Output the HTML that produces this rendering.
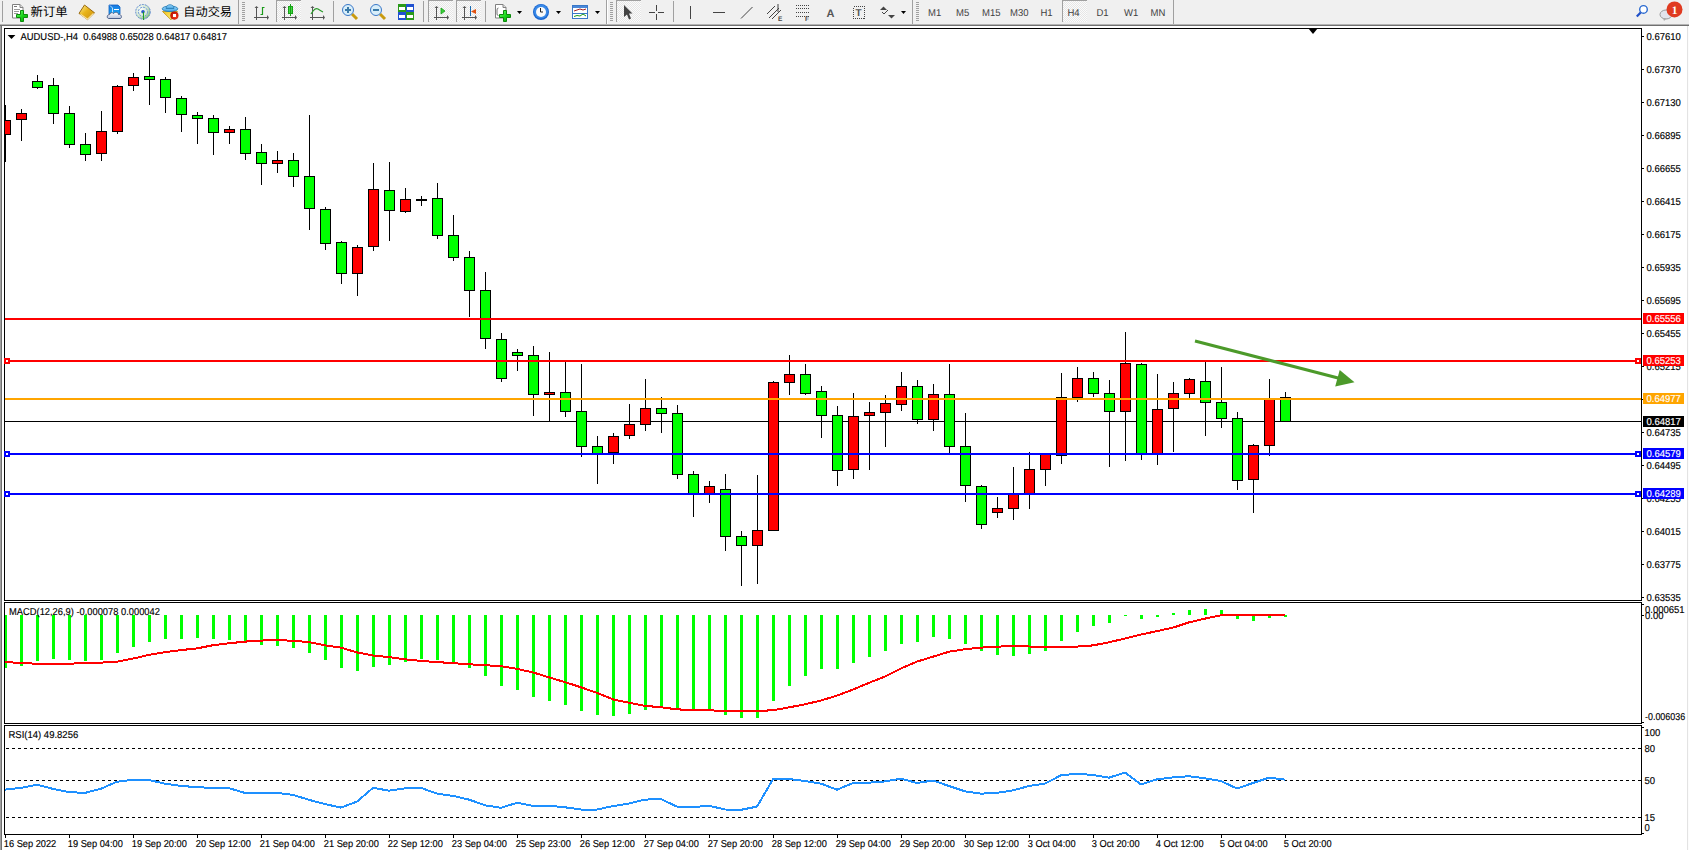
<!DOCTYPE html>
<html><head><meta charset="utf-8"><title>AUDUSD-,H4</title>
<style>
html,body{margin:0;padding:0;background:#f0f0f0;}
body{width:1689px;height:850px;overflow:hidden;}
svg{display:block;font-family:"Liberation Sans", Arial, sans-serif;text-rendering:geometricPrecision;}
svg rect{shape-rendering:crispEdges;}
</style></head>
<body>
<svg width="1689" height="850" viewBox="0 0 1689 850">
<defs><pattern id="chk" width="2" height="2" patternUnits="userSpaceOnUse"><rect width="2" height="2" fill="#fbfbfb"/><rect width="1" height="1" fill="#e6e6e6"/><rect x="1" y="1" width="1" height="1" fill="#e6e6e6"/></pattern></defs>
<rect x="0" y="0" width="1689" height="24" fill="#f0f0f0"/>
<rect x="0" y="24" width="1689" height="1" fill="#b4b4b4"/>
<rect x="0" y="25" width="1689" height="1" fill="#707070"/>
<defs><linearGradient id="gplus" x1="0" y1="0" x2="1" y2="1"><stop offset="0" stop-color="#7dff7d"/><stop offset="0.5" stop-color="#18d818"/><stop offset="1" stop-color="#0a9a0a"/></linearGradient><linearGradient id="ggold" x1="0" y1="0" x2="1" y2="1"><stop offset="0" stop-color="#fff3a0"/><stop offset="0.45" stop-color="#e8b418"/><stop offset="1" stop-color="#c88a10"/></linearGradient><linearGradient id="gblue" x1="0" y1="0" x2="0" y2="1"><stop offset="0" stop-color="#1a78e0"/><stop offset="1" stop-color="#18aaf8"/></linearGradient><linearGradient id="gcloud" x1="0" y1="0" x2="0" y2="1"><stop offset="0" stop-color="#ffffff"/><stop offset="1" stop-color="#b8c4dc"/></linearGradient><radialGradient id="gradar" cx="0.35" cy="0.35" r="0.75"><stop offset="0" stop-color="#ffffff"/><stop offset="0.6" stop-color="#cfe6cf"/><stop offset="1" stop-color="#5aaa5a"/></radialGradient><linearGradient id="ghat" x1="0" y1="0" x2="0" y2="1"><stop offset="0" stop-color="#a8dcff"/><stop offset="1" stop-color="#3aa0e0"/></linearGradient><linearGradient id="gfun" x1="0" y1="0" x2="1" y2="1"><stop offset="0" stop-color="#f0c020"/><stop offset="1" stop-color="#ffff90"/></linearGradient><radialGradient id="gred" cx="0.6" cy="0.6" r="0.6"><stop offset="0" stop-color="#ff4020"/><stop offset="1" stop-color="#b81000"/></radialGradient></defs>
<rect x="2" y="1" width="1" height="21" fill="#a0a0a0"/>
<path d="M12.5 4.5 h7.5 l3 3 v10.5 h-10.5 z" fill="#fff" stroke="#808080" stroke-width="1"/><path d="M20 4.5 v3 h3" fill="#e0e0e0" stroke="#808080" stroke-width="1"/>
<rect x="14" y="6" width="3" height="1" fill="#777"/><rect x="14" y="9" width="6" height="1" fill="#999"/><rect x="14" y="11" width="5" height="1" fill="#999"/><rect x="14" y="13" width="4" height="1" fill="#999"/>
<path d="M20.5 10.5 h3 v4 h4 v3 h-4 v4 h-3 v-4 h-4 v-3 h4 z" fill="url(#gplus)" stroke="#0c8a0c" stroke-width="1"/>
<text x="30.5" y="15.6" font-size="12.4" fill="#000" font-family='"Liberation Sans", "Noto Sans CJK SC", sans-serif'>新订单</text>
<path d="M84.5 5 L94.5 12.8 L87.6 19.6 L79 13.4 Z" fill="url(#ggold)" stroke="#9a6a10" stroke-width="1" stroke-linejoin="round"/><path d="M80.5 14.3 L87.6 19.2 L93.5 13.4" fill="none" stroke="#f6e0a0" stroke-width="1.2"/>
<path d="M109 5 h9 l2 2 v7 h-11 z" fill="url(#gblue)" stroke="#1060c0" stroke-width="0.8"/><path d="M110 5.5 l2.5 2.5 v6" stroke="#e8f4ff" stroke-width="0.8" fill="none"/><rect x="114" y="9" width="5" height="1.4" fill="#ffffff"/><path d="M108.5 18.5 c-2 -0.5 -1.5 -4 1 -4 c0.5 -2 3 -2.5 4 -1 c1.5 -2 5 -1.5 5 1 c2.5 -0.5 4 2.5 2 4 z" fill="url(#gcloud)" stroke="#4a5f8a" stroke-width="1"/>
<circle cx="143" cy="11.8" r="7.3" fill="url(#gradar)" opacity="0.9"/><g fill="none"><circle cx="143" cy="11.8" r="7.3" stroke="#5a86d0" stroke-width="1" stroke-dasharray="2 1"/><circle cx="143" cy="11.8" r="4.6" stroke="#6a96d8" stroke-width="1" stroke-dasharray="2 1"/></g><circle cx="143" cy="11.8" r="1.8" fill="#2a5ac8"/><rect x="142.6" y="11.8" width="1.5" height="7.7" fill="#20a020"/>
<path d="M162.5 11.5 L177.5 11.5 L171 19.8 Z" fill="url(#gfun)" stroke="#c89a18" stroke-width="0.9" stroke-linejoin="round"/><ellipse cx="170" cy="8.8" rx="7.8" ry="2.8" fill="url(#ghat)" stroke="#2a80b8" stroke-width="0.9"/><path d="M166 8.5 c0 -5 8 -5 8 0 z" fill="url(#ghat)" stroke="#2a80b8" stroke-width="0.9"/><circle cx="174.4" cy="15.6" r="4.1" fill="url(#gred)"/><rect x="173.1" y="14.3" width="2.6" height="2.6" fill="#fff"/>
<text x="183.3" y="15.6" font-size="12.2" fill="#000" font-family='"Liberation Sans", "Noto Sans CJK SC", sans-serif'>自动交易</text>
<rect x="238" y="0" width="1" height="24" fill="#a0a0a0"/>
<rect x="242" y="2" width="3" height="1" fill="#a0a0a0"/>
<rect x="242" y="4" width="3" height="1" fill="#a0a0a0"/>
<rect x="242" y="6" width="3" height="1" fill="#a0a0a0"/>
<rect x="242" y="8" width="3" height="1" fill="#a0a0a0"/>
<rect x="242" y="10" width="3" height="1" fill="#a0a0a0"/>
<rect x="242" y="12" width="3" height="1" fill="#a0a0a0"/>
<rect x="242" y="14" width="3" height="1" fill="#a0a0a0"/>
<rect x="242" y="16" width="3" height="1" fill="#a0a0a0"/>
<rect x="242" y="18" width="3" height="1" fill="#a0a0a0"/>
<rect x="242" y="20" width="3" height="1" fill="#a0a0a0"/>
<g fill="#555"><rect x="256" y="7" width="1" height="13"/><rect x="254" y="17" width="14" height="1"/><polygon points="254.5,8 258.5,8 256.5,6"/><polygon points="267,15 267,20 269,17.5"/></g>
<path d="M260.5 14.5 h2 v-7 h2" stroke="#1a9a1a" fill="none" stroke-width="1.2"/>
<rect x="276" y="0" width="25" height="22" fill="url(#chk)"/>
<rect x="276" y="0" width="25" height="1" fill="#a0a0a0"/>
<rect x="276" y="0" width="1" height="22" fill="#a0a0a0"/>
<g fill="#555"><rect x="284" y="7" width="1" height="13"/><rect x="282" y="17" width="14" height="1"/><polygon points="282.5,8 286.5,8 284.5,6"/><polygon points="295,15 295,20 297,17.5"/></g>
<rect x="288.5" y="6.5" width="4" height="7" fill="#3fdc3f" stroke="#18a018"/><rect x="290" y="4" width="1" height="12" fill="#18a018"/>
<g fill="#555"><rect x="312" y="7" width="1" height="13"/><rect x="310" y="17" width="14" height="1"/><polygon points="310.5,8 314.5,8 312.5,6"/><polygon points="323,15 323,20 325,17.5"/></g>
<path d="M311 14 q4 -7 7 -5 t5 3" stroke="#2a9a2a" fill="none" stroke-width="1.2"/>
<rect x="333" y="1" width="1" height="21" fill="#a0a0a0"/>
<line x1="352" y1="14" x2="357" y2="19" stroke="#c89a10" stroke-width="3"/><circle cx="348" cy="10" r="5.5" fill="#d8eefa" stroke="#3a78c8" stroke-width="1"/><rect x="345" y="9.3" width="6" height="1.6" fill="#3a7aa8"/>
<rect x="347.2" y="7" width="1.6" height="6" fill="#3a7aa8"/>
<line x1="380" y1="14" x2="385" y2="19" stroke="#c89a10" stroke-width="3"/><circle cx="376" cy="10" r="5.5" fill="#d8eefa" stroke="#3a78c8" stroke-width="1"/><rect x="373" y="9.3" width="6" height="1.6" fill="#3a7aa8"/>
<g><rect x="398" y="4" width="8" height="8" fill="#2a9a1a"/><rect x="406" y="4" width="8" height="8" fill="#2050d0"/><rect x="398" y="12" width="8" height="8" fill="#2050d0"/><rect x="406" y="12" width="8" height="8" fill="#2a9a1a"/><rect x="399" y="7" width="6" height="3" fill="#fff"/><rect x="407" y="7" width="6" height="3" fill="#fff"/><rect x="399" y="15" width="6" height="3" fill="#fff"/><rect x="407" y="15" width="6" height="3" fill="#fff"/></g>
<rect x="423" y="1" width="1" height="21" fill="#a0a0a0"/>
<rect x="428" y="0" width="25" height="22" fill="url(#chk)"/>
<rect x="428" y="0" width="25" height="1" fill="#a0a0a0"/>
<rect x="428" y="0" width="1" height="22" fill="#a0a0a0"/>
<g fill="#555"><rect x="436" y="7" width="1" height="13"/><rect x="434" y="17" width="14" height="1"/><polygon points="434.5,8 438.5,8 436.5,6"/><polygon points="447,15 447,20 449,17.5"/></g>
<polygon points="441,8 441,14 445,11" fill="#3ad03a" stroke="#18a018" stroke-width="0.8"/>
<rect x="456" y="0" width="25" height="22" fill="url(#chk)"/>
<rect x="456" y="0" width="25" height="1" fill="#a0a0a0"/>
<rect x="456" y="0" width="1" height="22" fill="#a0a0a0"/>
<g fill="#555"><rect x="464" y="7" width="1" height="13"/><rect x="462" y="17" width="14" height="1"/><polygon points="462.5,8 466.5,8 464.5,6"/><polygon points="475,15 475,20 477,17.5"/></g>
<rect x="470" y="6" width="1" height="10" fill="#1a6ab0"/><polygon points="471,11.5 476,9 476,14" fill="#e05010"/>
<rect x="485" y="1" width="1" height="21" fill="#a0a0a0"/>
<path d="M495.5 4.5 h7.5 l3 3 v10.5 h-10.5 z" fill="#fff" stroke="#808080" stroke-width="1"/><path d="M503 4.5 v3 h3" fill="#e0e0e0" stroke="#808080" stroke-width="1"/>
<path d="M498.5 8 q-1.5 0 -1.5 2 v4 q0 1.5 1.5 1.5" fill="none" stroke="#555" stroke-width="0.8"/>
<path d="M503.5 10.5 h3 v4 h4 v3 h-4 v4 h-3 v-4 h-4 v-3 h4 z" fill="url(#gplus)" stroke="#0c8a0c" stroke-width="1"/>
<polygon points="517,11 522,11 519.5,14" fill="#000"/>
<circle cx="541" cy="12" r="8" fill="#1a66d0"/><circle cx="541" cy="11.6" r="7" fill="#3a8ae8"/><circle cx="541" cy="12" r="5" fill="#fafafa"/><path d="M540.5 8 v4 h2.5" stroke="#222" fill="none" stroke-width="1"/>
<polygon points="556,11 561,11 558.5,14" fill="#000"/>
<g><rect x="572.5" y="5.5" width="15" height="13" fill="#fff" stroke="#3a78c8"/><rect x="573" y="6" width="14" height="2" fill="#4a88d8"/><rect x="573" y="13" width="14" height="1" fill="#3a78c8"/><path d="M574 11 l3 -1 l3 -1 l3 1 l3 -1" stroke="#a02020" fill="none"/><path d="M574 16.5 l3 -1 l3 0.5 l3 -2 l3 2" stroke="#1a9a1a" fill="none"/></g>
<polygon points="595,11 600,11 597.5,14" fill="#000"/>
<rect x="606" y="0" width="1" height="24" fill="#a0a0a0"/>
<rect x="607" y="0" width="1" height="24" fill="#ffffff"/>
<rect x="610" y="2" width="3" height="1" fill="#a0a0a0"/>
<rect x="610" y="4" width="3" height="1" fill="#a0a0a0"/>
<rect x="610" y="6" width="3" height="1" fill="#a0a0a0"/>
<rect x="610" y="8" width="3" height="1" fill="#a0a0a0"/>
<rect x="610" y="10" width="3" height="1" fill="#a0a0a0"/>
<rect x="610" y="12" width="3" height="1" fill="#a0a0a0"/>
<rect x="610" y="14" width="3" height="1" fill="#a0a0a0"/>
<rect x="610" y="16" width="3" height="1" fill="#a0a0a0"/>
<rect x="610" y="18" width="3" height="1" fill="#a0a0a0"/>
<rect x="610" y="20" width="3" height="1" fill="#a0a0a0"/>
<rect x="616" y="0" width="25" height="22" fill="url(#chk)"/>
<rect x="616" y="0" width="25" height="1" fill="#a0a0a0"/>
<rect x="616" y="0" width="1" height="22" fill="#a0a0a0"/>
<polygon points="624,5 624,17 627,14.5 629,19.5 631,18.5 629,13.5 632.5,13.5" fill="#444"/>
<g fill="#444"><rect x="656" y="5" width="1" height="6"/><rect x="656" y="14" width="1" height="6"/><rect x="649" y="12" width="6" height="1"/><rect x="658" y="12" width="6" height="1"/></g>
<rect x="673" y="1" width="1" height="21" fill="#a0a0a0"/>
<rect x="690" y="6" width="1" height="13" fill="#444"/>
<rect x="713" y="12" width="12" height="1" fill="#444"/>
<line x1="741" y1="18.5" x2="752.5" y2="7" stroke="#444" stroke-width="1"/>
<g stroke="#444" stroke-width="1"><line x1="767" y1="14" x2="775" y2="6"/><line x1="769" y1="18" x2="779" y2="8"/><line x1="772" y1="19" x2="781" y2="10"/><line x1="778" y1="4" x2="778" y2="12"/></g><text x="778" y="21" font-size="6.5" font-weight="bold" fill="#444">E</text>
<g fill="#444"><rect x="796" y="5" width="1" height="1"/><rect x="798" y="5" width="1" height="1"/><rect x="800" y="5" width="1" height="1"/><rect x="802" y="5" width="1" height="1"/><rect x="804" y="5" width="1" height="1"/><rect x="806" y="5" width="1" height="1"/><rect x="808" y="5" width="1" height="1"/><rect x="796" y="8" width="1" height="1"/><rect x="798" y="8" width="1" height="1"/><rect x="800" y="8" width="1" height="1"/><rect x="802" y="8" width="1" height="1"/><rect x="804" y="8" width="1" height="1"/><rect x="806" y="8" width="1" height="1"/><rect x="808" y="8" width="1" height="1"/><rect x="796" y="12" width="1" height="1"/><rect x="798" y="12" width="1" height="1"/><rect x="800" y="12" width="1" height="1"/><rect x="802" y="12" width="1" height="1"/><rect x="804" y="12" width="1" height="1"/><rect x="806" y="12" width="1" height="1"/><rect x="808" y="12" width="1" height="1"/><rect x="796" y="16" width="1" height="1"/><rect x="798" y="16" width="1" height="1"/><rect x="800" y="16" width="1" height="1"/><rect x="802" y="16" width="1" height="1"/><rect x="804" y="16" width="1" height="1"/><rect x="806" y="16" width="1" height="1"/><rect x="808" y="16" width="1" height="1"/></g><text x="805" y="21" font-size="6.5" font-weight="bold" fill="#444">F</text>
<text x="826.5" y="17" font-size="11" font-weight="bold" fill="#555">A</text>
<rect x="853.5" y="6.5" width="11" height="12" fill="none" stroke="#444" stroke-dasharray="1 1"/><text x="855.6" y="16" font-size="10" font-weight="bold" fill="#555">T</text>
<g fill="#444"><polygon points="880,10 883.5,6.5 887,10"/><polygon points="888,15 891.5,18.5 895,15"/><path d="M882 12 l2 2 l4 -4" stroke="#444" fill="none"/></g>
<polygon points="901,11 906,11 903.5,14" fill="#000"/>
<rect x="912" y="0" width="1" height="24" fill="#a0a0a0"/>
<rect x="916" y="2" width="3" height="1" fill="#a0a0a0"/>
<rect x="916" y="4" width="3" height="1" fill="#a0a0a0"/>
<rect x="916" y="6" width="3" height="1" fill="#a0a0a0"/>
<rect x="916" y="8" width="3" height="1" fill="#a0a0a0"/>
<rect x="916" y="10" width="3" height="1" fill="#a0a0a0"/>
<rect x="916" y="12" width="3" height="1" fill="#a0a0a0"/>
<rect x="916" y="14" width="3" height="1" fill="#a0a0a0"/>
<rect x="916" y="16" width="3" height="1" fill="#a0a0a0"/>
<rect x="916" y="18" width="3" height="1" fill="#a0a0a0"/>
<rect x="916" y="20" width="3" height="1" fill="#a0a0a0"/>
<rect x="1062" y="0" width="25" height="22" fill="url(#chk)"/>
<rect x="1062" y="0" width="25" height="1" fill="#a0a0a0"/>
<rect x="1062" y="0" width="1" height="22" fill="#a0a0a0"/>
<text transform="translate(928,16) scale(0.95,1)" font-size="10" fill="#404040">M1</text>
<text transform="translate(956,16) scale(0.95,1)" font-size="10" fill="#404040">M5</text>
<text transform="translate(982,16) scale(0.95,1)" font-size="10" fill="#404040">M15</text>
<text transform="translate(1010,16) scale(0.95,1)" font-size="10" fill="#404040">M30</text>
<text transform="translate(1040.5,16) scale(0.95,1)" font-size="10" fill="#404040">H1</text>
<text transform="translate(1067.5,16) scale(0.95,1)" font-size="10" fill="#404040">H4</text>
<text transform="translate(1096.5,16) scale(0.95,1)" font-size="10" fill="#404040">D1</text>
<text transform="translate(1124,16) scale(0.95,1)" font-size="10" fill="#404040">W1</text>
<text transform="translate(1150.5,16) scale(0.95,1)" font-size="10" fill="#404040">MN</text>
<rect x="1173" y="0" width="1" height="24" fill="#a0a0a0"/>
<circle cx="1643.5" cy="9.4" r="3.8" fill="#fff" stroke="#2a6ad0" stroke-width="1.4"/><line x1="1640.7" y1="12.4" x2="1636.8" y2="16.6" stroke="#2050c8" stroke-width="2.2"/>
<ellipse cx="1666" cy="14.5" rx="6" ry="4.5" fill="#e2e4ec" stroke="#9a9a9a"/><polygon points="1663,18 1664,21 1666.5,18.5" fill="#aaa"/><circle cx="1674.5" cy="9.4" r="8" fill="#e03a20"/><text x="1674.5" y="14" font-size="11.5" font-weight="bold" fill="#fff" text-anchor="middle" font-family='"Liberation Serif", serif'>1</text>
<rect x="0" y="26" width="1689" height="824" fill="#ffffff"/>
<rect x="0" y="26" width="1" height="824" fill="#a0a0a0"/>
<rect x="1" y="26" width="1" height="824" fill="#707070"/>
<rect x="1687" y="26" width="1" height="824" fill="#e3e3e3"/>
<rect x="1688" y="26" width="1" height="824" fill="#fcfcfc"/>
<rect x="4" y="28" width="1638" height="1" fill="#000"/>
<rect x="4" y="600" width="1638" height="1" fill="#000"/>
<rect x="4" y="28" width="1" height="573" fill="#000"/>
<rect x="1641" y="28" width="1" height="573" fill="#000"/>
<rect x="4" y="602" width="1638" height="1" fill="#000"/>
<rect x="4" y="723" width="1638" height="1" fill="#000"/>
<rect x="4" y="602" width="1" height="122" fill="#000"/>
<rect x="1641" y="602" width="1" height="122" fill="#000"/>
<rect x="4" y="725" width="1638" height="1" fill="#000"/>
<rect x="4" y="834" width="1638" height="1" fill="#000"/>
<rect x="4" y="725" width="1" height="110" fill="#000"/>
<rect x="1641" y="725" width="1" height="110" fill="#000"/>
<defs><clipPath id="cm"><rect x="5" y="29" width="1636" height="571"/></clipPath><clipPath id="cmacd"><rect x="5" y="603" width="1636" height="120"/></clipPath><clipPath id="crsi"><rect x="5" y="726" width="1636" height="108"/></clipPath></defs>
<rect x="5" y="421" width="1636" height="1" fill="#000"/>
<g clip-path="url(#cm)">
<rect x="5" y="105" width="1" height="57" fill="#000"/>
<rect x="0" y="120" width="11" height="15" fill="#000"/>
<rect x="1" y="121" width="9" height="13" fill="#ff0000"/>
<rect x="21" y="109" width="1" height="32" fill="#000"/>
<rect x="16" y="113" width="11" height="7" fill="#000"/>
<rect x="17" y="114" width="9" height="5" fill="#ff0000"/>
<rect x="37" y="75" width="1" height="14" fill="#000"/>
<rect x="32" y="81" width="11" height="7" fill="#000"/>
<rect x="33" y="82" width="9" height="5" fill="#00ff00"/>
<rect x="53" y="78" width="1" height="46" fill="#000"/>
<rect x="48" y="85" width="11" height="29" fill="#000"/>
<rect x="49" y="86" width="9" height="27" fill="#00ff00"/>
<rect x="69" y="106" width="1" height="42" fill="#000"/>
<rect x="64" y="113" width="11" height="32" fill="#000"/>
<rect x="65" y="114" width="9" height="30" fill="#00ff00"/>
<rect x="85" y="133" width="1" height="28" fill="#000"/>
<rect x="80" y="144" width="11" height="11" fill="#000"/>
<rect x="81" y="145" width="9" height="9" fill="#00ff00"/>
<rect x="101" y="111" width="1" height="50" fill="#000"/>
<rect x="96" y="131" width="11" height="23" fill="#000"/>
<rect x="97" y="132" width="9" height="21" fill="#ff0000"/>
<rect x="117" y="85" width="1" height="49" fill="#000"/>
<rect x="112" y="86" width="11" height="46" fill="#000"/>
<rect x="113" y="87" width="9" height="44" fill="#ff0000"/>
<rect x="133" y="73" width="1" height="18" fill="#000"/>
<rect x="128" y="77" width="11" height="9" fill="#000"/>
<rect x="129" y="78" width="9" height="7" fill="#ff0000"/>
<rect x="149" y="57" width="1" height="48" fill="#000"/>
<rect x="144" y="76" width="11" height="4" fill="#000"/>
<rect x="145" y="77" width="9" height="2" fill="#00ff00"/>
<rect x="165" y="77" width="1" height="36" fill="#000"/>
<rect x="160" y="79" width="11" height="19" fill="#000"/>
<rect x="161" y="80" width="9" height="17" fill="#00ff00"/>
<rect x="181" y="96" width="1" height="36" fill="#000"/>
<rect x="176" y="98" width="11" height="17" fill="#000"/>
<rect x="177" y="99" width="9" height="15" fill="#00ff00"/>
<rect x="197" y="112" width="1" height="32" fill="#000"/>
<rect x="192" y="115" width="11" height="4" fill="#000"/>
<rect x="193" y="116" width="9" height="2" fill="#00ff00"/>
<rect x="213" y="115" width="1" height="40" fill="#000"/>
<rect x="208" y="118" width="11" height="15" fill="#000"/>
<rect x="209" y="119" width="9" height="13" fill="#00ff00"/>
<rect x="229" y="126" width="1" height="18" fill="#000"/>
<rect x="224" y="129" width="11" height="4" fill="#000"/>
<rect x="225" y="130" width="9" height="2" fill="#ff0000"/>
<rect x="245" y="117" width="1" height="43" fill="#000"/>
<rect x="240" y="129" width="11" height="25" fill="#000"/>
<rect x="241" y="130" width="9" height="23" fill="#00ff00"/>
<rect x="261" y="144" width="1" height="41" fill="#000"/>
<rect x="256" y="152" width="11" height="12" fill="#000"/>
<rect x="257" y="153" width="9" height="10" fill="#00ff00"/>
<rect x="277" y="151" width="1" height="22" fill="#000"/>
<rect x="272" y="160" width="11" height="4" fill="#000"/>
<rect x="273" y="161" width="9" height="2" fill="#ff0000"/>
<rect x="293" y="153" width="1" height="34" fill="#000"/>
<rect x="288" y="160" width="11" height="17" fill="#000"/>
<rect x="289" y="161" width="9" height="15" fill="#00ff00"/>
<rect x="309" y="115" width="1" height="115" fill="#000"/>
<rect x="304" y="176" width="11" height="33" fill="#000"/>
<rect x="305" y="177" width="9" height="31" fill="#00ff00"/>
<rect x="325" y="207" width="1" height="43" fill="#000"/>
<rect x="320" y="209" width="11" height="35" fill="#000"/>
<rect x="321" y="210" width="9" height="33" fill="#00ff00"/>
<rect x="341" y="241" width="1" height="43" fill="#000"/>
<rect x="336" y="242" width="11" height="32" fill="#000"/>
<rect x="337" y="243" width="9" height="30" fill="#00ff00"/>
<rect x="357" y="245" width="1" height="51" fill="#000"/>
<rect x="352" y="247" width="11" height="27" fill="#000"/>
<rect x="353" y="248" width="9" height="25" fill="#ff0000"/>
<rect x="373" y="163" width="1" height="88" fill="#000"/>
<rect x="368" y="189" width="11" height="58" fill="#000"/>
<rect x="369" y="190" width="9" height="56" fill="#ff0000"/>
<rect x="389" y="162" width="1" height="79" fill="#000"/>
<rect x="384" y="190" width="11" height="21" fill="#000"/>
<rect x="385" y="191" width="9" height="19" fill="#00ff00"/>
<rect x="405" y="188" width="1" height="25" fill="#000"/>
<rect x="400" y="199" width="11" height="13" fill="#000"/>
<rect x="401" y="200" width="9" height="11" fill="#ff0000"/>
<rect x="421" y="196" width="1" height="10" fill="#000"/>
<rect x="416" y="199" width="11" height="2" fill="#000"/>
<rect x="437" y="183" width="1" height="56" fill="#000"/>
<rect x="432" y="198" width="11" height="38" fill="#000"/>
<rect x="433" y="199" width="9" height="36" fill="#00ff00"/>
<rect x="453" y="215" width="1" height="46" fill="#000"/>
<rect x="448" y="235" width="11" height="23" fill="#000"/>
<rect x="449" y="236" width="9" height="21" fill="#00ff00"/>
<rect x="469" y="251" width="1" height="66" fill="#000"/>
<rect x="464" y="257" width="11" height="34" fill="#000"/>
<rect x="465" y="258" width="9" height="32" fill="#00ff00"/>
<rect x="485" y="272" width="1" height="77" fill="#000"/>
<rect x="480" y="290" width="11" height="49" fill="#000"/>
<rect x="481" y="291" width="9" height="47" fill="#00ff00"/>
<rect x="501" y="333" width="1" height="49" fill="#000"/>
<rect x="496" y="339" width="11" height="40" fill="#000"/>
<rect x="497" y="340" width="9" height="38" fill="#00ff00"/>
<rect x="517" y="349" width="1" height="22" fill="#000"/>
<rect x="512" y="352" width="11" height="4" fill="#000"/>
<rect x="513" y="353" width="9" height="2" fill="#00ff00"/>
<rect x="533" y="346" width="1" height="70" fill="#000"/>
<rect x="528" y="355" width="11" height="40" fill="#000"/>
<rect x="529" y="356" width="9" height="38" fill="#00ff00"/>
<rect x="549" y="352" width="1" height="70" fill="#000"/>
<rect x="544" y="392" width="11" height="3" fill="#000"/>
<rect x="545" y="393" width="9" height="1" fill="#ff0000"/>
<rect x="565" y="362" width="1" height="55" fill="#000"/>
<rect x="560" y="392" width="11" height="20" fill="#000"/>
<rect x="561" y="393" width="9" height="18" fill="#00ff00"/>
<rect x="581" y="364" width="1" height="93" fill="#000"/>
<rect x="576" y="411" width="11" height="36" fill="#000"/>
<rect x="577" y="412" width="9" height="34" fill="#00ff00"/>
<rect x="597" y="436" width="1" height="48" fill="#000"/>
<rect x="592" y="446" width="11" height="8" fill="#000"/>
<rect x="593" y="447" width="9" height="6" fill="#00ff00"/>
<rect x="613" y="433" width="1" height="31" fill="#000"/>
<rect x="608" y="436" width="11" height="17" fill="#000"/>
<rect x="609" y="437" width="9" height="15" fill="#ff0000"/>
<rect x="629" y="404" width="1" height="35" fill="#000"/>
<rect x="624" y="424" width="11" height="12" fill="#000"/>
<rect x="625" y="425" width="9" height="10" fill="#ff0000"/>
<rect x="645" y="379" width="1" height="52" fill="#000"/>
<rect x="640" y="408" width="11" height="17" fill="#000"/>
<rect x="641" y="409" width="9" height="15" fill="#ff0000"/>
<rect x="661" y="397" width="1" height="36" fill="#000"/>
<rect x="656" y="408" width="11" height="6" fill="#000"/>
<rect x="657" y="409" width="9" height="4" fill="#00ff00"/>
<rect x="677" y="405" width="1" height="74" fill="#000"/>
<rect x="672" y="413" width="11" height="62" fill="#000"/>
<rect x="673" y="414" width="9" height="60" fill="#00ff00"/>
<rect x="693" y="471" width="1" height="46" fill="#000"/>
<rect x="688" y="474" width="11" height="20" fill="#000"/>
<rect x="689" y="475" width="9" height="18" fill="#00ff00"/>
<rect x="709" y="481" width="1" height="22" fill="#000"/>
<rect x="704" y="486" width="11" height="8" fill="#000"/>
<rect x="705" y="487" width="9" height="6" fill="#ff0000"/>
<rect x="725" y="474" width="1" height="77" fill="#000"/>
<rect x="720" y="489" width="11" height="48" fill="#000"/>
<rect x="721" y="490" width="9" height="46" fill="#00ff00"/>
<rect x="741" y="531" width="1" height="55" fill="#000"/>
<rect x="736" y="536" width="11" height="10" fill="#000"/>
<rect x="737" y="537" width="9" height="8" fill="#00ff00"/>
<rect x="757" y="475" width="1" height="109" fill="#000"/>
<rect x="752" y="530" width="11" height="16" fill="#000"/>
<rect x="753" y="531" width="9" height="14" fill="#ff0000"/>
<rect x="773" y="381" width="1" height="150" fill="#000"/>
<rect x="768" y="382" width="11" height="149" fill="#000"/>
<rect x="769" y="383" width="9" height="147" fill="#ff0000"/>
<rect x="789" y="355" width="1" height="40" fill="#000"/>
<rect x="784" y="374" width="11" height="9" fill="#000"/>
<rect x="785" y="375" width="9" height="7" fill="#ff0000"/>
<rect x="805" y="364" width="1" height="31" fill="#000"/>
<rect x="800" y="374" width="11" height="20" fill="#000"/>
<rect x="801" y="375" width="9" height="18" fill="#00ff00"/>
<rect x="821" y="386" width="1" height="52" fill="#000"/>
<rect x="816" y="391" width="11" height="25" fill="#000"/>
<rect x="817" y="392" width="9" height="23" fill="#00ff00"/>
<rect x="837" y="406" width="1" height="80" fill="#000"/>
<rect x="832" y="415" width="11" height="56" fill="#000"/>
<rect x="833" y="416" width="9" height="54" fill="#00ff00"/>
<rect x="853" y="393" width="1" height="86" fill="#000"/>
<rect x="848" y="416" width="11" height="54" fill="#000"/>
<rect x="849" y="417" width="9" height="52" fill="#ff0000"/>
<rect x="869" y="402" width="1" height="68" fill="#000"/>
<rect x="864" y="412" width="11" height="4" fill="#000"/>
<rect x="865" y="413" width="9" height="2" fill="#ff0000"/>
<rect x="885" y="395" width="1" height="52" fill="#000"/>
<rect x="880" y="403" width="11" height="10" fill="#000"/>
<rect x="881" y="404" width="9" height="8" fill="#ff0000"/>
<rect x="901" y="372" width="1" height="39" fill="#000"/>
<rect x="896" y="386" width="11" height="19" fill="#000"/>
<rect x="897" y="387" width="9" height="17" fill="#ff0000"/>
<rect x="917" y="380" width="1" height="44" fill="#000"/>
<rect x="912" y="386" width="11" height="34" fill="#000"/>
<rect x="913" y="387" width="9" height="32" fill="#00ff00"/>
<rect x="933" y="384" width="1" height="47" fill="#000"/>
<rect x="928" y="394" width="11" height="26" fill="#000"/>
<rect x="929" y="395" width="9" height="24" fill="#ff0000"/>
<rect x="949" y="364" width="1" height="89" fill="#000"/>
<rect x="944" y="394" width="11" height="53" fill="#000"/>
<rect x="945" y="395" width="9" height="51" fill="#00ff00"/>
<rect x="965" y="413" width="1" height="89" fill="#000"/>
<rect x="960" y="446" width="11" height="40" fill="#000"/>
<rect x="961" y="447" width="9" height="38" fill="#00ff00"/>
<rect x="981" y="485" width="1" height="44" fill="#000"/>
<rect x="976" y="486" width="11" height="39" fill="#000"/>
<rect x="977" y="487" width="9" height="37" fill="#00ff00"/>
<rect x="997" y="497" width="1" height="21" fill="#000"/>
<rect x="992" y="508" width="11" height="5" fill="#000"/>
<rect x="993" y="509" width="9" height="3" fill="#ff0000"/>
<rect x="1013" y="467" width="1" height="53" fill="#000"/>
<rect x="1008" y="494" width="11" height="15" fill="#000"/>
<rect x="1009" y="495" width="9" height="13" fill="#ff0000"/>
<rect x="1029" y="452" width="1" height="57" fill="#000"/>
<rect x="1024" y="469" width="11" height="25" fill="#000"/>
<rect x="1025" y="470" width="9" height="23" fill="#ff0000"/>
<rect x="1045" y="454" width="1" height="32" fill="#000"/>
<rect x="1040" y="454" width="11" height="16" fill="#000"/>
<rect x="1041" y="455" width="9" height="14" fill="#ff0000"/>
<rect x="1061" y="373" width="1" height="91" fill="#000"/>
<rect x="1056" y="397" width="11" height="59" fill="#000"/>
<rect x="1057" y="398" width="9" height="57" fill="#ff0000"/>
<rect x="1077" y="367" width="1" height="35" fill="#000"/>
<rect x="1072" y="378" width="11" height="20" fill="#000"/>
<rect x="1073" y="379" width="9" height="18" fill="#ff0000"/>
<rect x="1093" y="372" width="1" height="25" fill="#000"/>
<rect x="1088" y="378" width="11" height="16" fill="#000"/>
<rect x="1089" y="379" width="9" height="14" fill="#00ff00"/>
<rect x="1109" y="380" width="1" height="87" fill="#000"/>
<rect x="1104" y="393" width="11" height="19" fill="#000"/>
<rect x="1105" y="394" width="9" height="17" fill="#00ff00"/>
<rect x="1125" y="332" width="1" height="129" fill="#000"/>
<rect x="1120" y="363" width="11" height="49" fill="#000"/>
<rect x="1121" y="364" width="9" height="47" fill="#ff0000"/>
<rect x="1141" y="363" width="1" height="97" fill="#000"/>
<rect x="1136" y="364" width="11" height="90" fill="#000"/>
<rect x="1137" y="365" width="9" height="88" fill="#00ff00"/>
<rect x="1157" y="374" width="1" height="91" fill="#000"/>
<rect x="1152" y="409" width="11" height="45" fill="#000"/>
<rect x="1153" y="410" width="9" height="43" fill="#ff0000"/>
<rect x="1173" y="382" width="1" height="70" fill="#000"/>
<rect x="1168" y="393" width="11" height="16" fill="#000"/>
<rect x="1169" y="394" width="9" height="14" fill="#ff0000"/>
<rect x="1189" y="378" width="1" height="20" fill="#000"/>
<rect x="1184" y="379" width="11" height="15" fill="#000"/>
<rect x="1185" y="380" width="9" height="13" fill="#ff0000"/>
<rect x="1205" y="362" width="1" height="74" fill="#000"/>
<rect x="1200" y="381" width="11" height="22" fill="#000"/>
<rect x="1201" y="382" width="9" height="20" fill="#00ff00"/>
<rect x="1221" y="367" width="1" height="61" fill="#000"/>
<rect x="1216" y="402" width="11" height="17" fill="#000"/>
<rect x="1217" y="403" width="9" height="15" fill="#00ff00"/>
<rect x="1237" y="412" width="1" height="78" fill="#000"/>
<rect x="1232" y="418" width="11" height="63" fill="#000"/>
<rect x="1233" y="419" width="9" height="61" fill="#00ff00"/>
<rect x="1253" y="444" width="1" height="69" fill="#000"/>
<rect x="1248" y="445" width="11" height="35" fill="#000"/>
<rect x="1249" y="446" width="9" height="33" fill="#ff0000"/>
<rect x="1269" y="379" width="1" height="77" fill="#000"/>
<rect x="1264" y="399" width="11" height="47" fill="#000"/>
<rect x="1265" y="400" width="9" height="45" fill="#ff0000"/>
<rect x="1285" y="392" width="1" height="30" fill="#000"/>
<rect x="1280" y="397" width="11" height="25" fill="#000"/>
<rect x="1281" y="398" width="9" height="23" fill="#00ff00"/>
</g>
<rect x="5" y="318" width="1636" height="2" fill="#ff0000"/>
<rect x="5" y="360" width="1636" height="2" fill="#ff0000"/>
<rect x="5" y="398" width="1636" height="2" fill="#ffa500"/>
<rect x="5" y="453" width="1636" height="2" fill="#0000ff"/>
<rect x="5" y="493" width="1636" height="2" fill="#0000ff"/>
<rect x="4" y="358" width="6" height="6" fill="#ff0000"/>
<rect x="6" y="360" width="2" height="2" fill="#fff"/>
<rect x="1635" y="358" width="6" height="6" fill="#ff0000"/>
<rect x="1637" y="360" width="2" height="2" fill="#fff"/>
<rect x="4" y="451" width="6" height="6" fill="#0000ff"/>
<rect x="6" y="453" width="2" height="2" fill="#fff"/>
<rect x="1635" y="451" width="6" height="6" fill="#0000ff"/>
<rect x="1637" y="453" width="2" height="2" fill="#fff"/>
<rect x="4" y="491" width="6" height="6" fill="#0000ff"/>
<rect x="6" y="493" width="2" height="2" fill="#fff"/>
<rect x="1635" y="491" width="6" height="6" fill="#0000ff"/>
<rect x="1637" y="493" width="2" height="2" fill="#fff"/>
<g clip-path="url(#cm)"><line x1="1195" y1="341" x2="1340" y2="378.5" stroke="#4c9a2a" stroke-width="3"/><polygon points="1339.7,370 1354.5,382.2 1335.2,386.5" fill="#4c9a2a"/></g>
<polygon points="1308,28 1318,28 1313,34" fill="#000"/>
<polygon points="7.6,35 15.4,35 11.5,39" fill="#000"/>
<text transform="translate(20.5,40) scale(0.94,1)" fill="#000" stroke="#000" stroke-width="0.15" font-size="10.0">AUDUSD-,H4&#160;&#160;0.64988 0.65028 0.64817 0.64817</text>
<rect x="1642" y="36" width="2" height="1" fill="#000"/>
<text transform="translate(1646.5,40) scale(0.95,1)" fill="#000" stroke="#000" stroke-width="0.15" font-size="10.0">0.67610</text>
<rect x="1642" y="69" width="2" height="1" fill="#000"/>
<text transform="translate(1646.5,73) scale(0.95,1)" fill="#000" stroke="#000" stroke-width="0.15" font-size="10.0">0.67370</text>
<rect x="1642" y="102" width="2" height="1" fill="#000"/>
<text transform="translate(1646.5,106) scale(0.95,1)" fill="#000" stroke="#000" stroke-width="0.15" font-size="10.0">0.67130</text>
<rect x="1642" y="135" width="2" height="1" fill="#000"/>
<text transform="translate(1646.5,139) scale(0.95,1)" fill="#000" stroke="#000" stroke-width="0.15" font-size="10.0">0.66895</text>
<rect x="1642" y="168" width="2" height="1" fill="#000"/>
<text transform="translate(1646.5,172) scale(0.95,1)" fill="#000" stroke="#000" stroke-width="0.15" font-size="10.0">0.66655</text>
<rect x="1642" y="201" width="2" height="1" fill="#000"/>
<text transform="translate(1646.5,205) scale(0.95,1)" fill="#000" stroke="#000" stroke-width="0.15" font-size="10.0">0.66415</text>
<rect x="1642" y="234" width="2" height="1" fill="#000"/>
<text transform="translate(1646.5,238) scale(0.95,1)" fill="#000" stroke="#000" stroke-width="0.15" font-size="10.0">0.66175</text>
<rect x="1642" y="267" width="2" height="1" fill="#000"/>
<text transform="translate(1646.5,271) scale(0.95,1)" fill="#000" stroke="#000" stroke-width="0.15" font-size="10.0">0.65935</text>
<rect x="1642" y="300" width="2" height="1" fill="#000"/>
<text transform="translate(1646.5,304) scale(0.95,1)" fill="#000" stroke="#000" stroke-width="0.15" font-size="10.0">0.65695</text>
<rect x="1642" y="333" width="2" height="1" fill="#000"/>
<text transform="translate(1646.5,337) scale(0.95,1)" fill="#000" stroke="#000" stroke-width="0.15" font-size="10.0">0.65455</text>
<rect x="1642" y="366" width="2" height="1" fill="#000"/>
<text transform="translate(1646.5,370) scale(0.95,1)" fill="#000" stroke="#000" stroke-width="0.15" font-size="10.0">0.65215</text>
<rect x="1642" y="399" width="2" height="1" fill="#000"/>
<text transform="translate(1646.5,403) scale(0.95,1)" fill="#000" stroke="#000" stroke-width="0.15" font-size="10.0">0.64975</text>
<rect x="1642" y="432" width="2" height="1" fill="#000"/>
<text transform="translate(1646.5,436) scale(0.95,1)" fill="#000" stroke="#000" stroke-width="0.15" font-size="10.0">0.64735</text>
<rect x="1642" y="465" width="2" height="1" fill="#000"/>
<text transform="translate(1646.5,469) scale(0.95,1)" fill="#000" stroke="#000" stroke-width="0.15" font-size="10.0">0.64495</text>
<rect x="1642" y="498" width="2" height="1" fill="#000"/>
<text transform="translate(1646.5,502) scale(0.95,1)" fill="#000" stroke="#000" stroke-width="0.15" font-size="10.0">0.64255</text>
<rect x="1642" y="531" width="2" height="1" fill="#000"/>
<text transform="translate(1646.5,535) scale(0.95,1)" fill="#000" stroke="#000" stroke-width="0.15" font-size="10.0">0.64015</text>
<rect x="1642" y="564" width="2" height="1" fill="#000"/>
<text transform="translate(1646.5,568) scale(0.95,1)" fill="#000" stroke="#000" stroke-width="0.15" font-size="10.0">0.63775</text>
<rect x="1642" y="597" width="2" height="1" fill="#000"/>
<text transform="translate(1646.5,601) scale(0.95,1)" fill="#000" stroke="#000" stroke-width="0.15" font-size="10.0">0.63535</text>
<rect x="1643" y="313" width="41" height="11" fill="#ff0000"/>
<text transform="translate(1646.5,322) scale(0.95,1)" fill="#fff" stroke="#fff" stroke-width="0.15" font-size="10.0">0.65556</text>
<rect x="1643" y="355" width="41" height="11" fill="#ff0000"/>
<text transform="translate(1646.5,364) scale(0.95,1)" fill="#fff" stroke="#fff" stroke-width="0.15" font-size="10.0">0.65253</text>
<rect x="1643" y="393" width="41" height="11" fill="#ffa500"/>
<text transform="translate(1646.5,402) scale(0.95,1)" fill="#fff" stroke="#fff" stroke-width="0.15" font-size="10.0">0.64977</text>
<rect x="1643" y="416" width="41" height="11" fill="#000000"/>
<text transform="translate(1646.5,425) scale(0.95,1)" fill="#fff" stroke="#fff" stroke-width="0.15" font-size="10.0">0.64817</text>
<rect x="1643" y="448" width="41" height="11" fill="#0000ff"/>
<text transform="translate(1646.5,457) scale(0.95,1)" fill="#fff" stroke="#fff" stroke-width="0.15" font-size="10.0">0.64579</text>
<rect x="1643" y="488" width="41" height="11" fill="#0000ff"/>
<text transform="translate(1646.5,497) scale(0.95,1)" fill="#fff" stroke="#fff" stroke-width="0.15" font-size="10.0">0.64289</text>
<g clip-path="url(#cmacd)">
<rect x="4" y="615" width="3" height="53" fill="#00ff00"/>
<rect x="20" y="615" width="3" height="51" fill="#00ff00"/>
<rect x="36" y="615" width="3" height="46" fill="#00ff00"/>
<rect x="52" y="615" width="3" height="44" fill="#00ff00"/>
<rect x="68" y="615" width="3" height="45" fill="#00ff00"/>
<rect x="84" y="615" width="3" height="46" fill="#00ff00"/>
<rect x="100" y="615" width="3" height="45" fill="#00ff00"/>
<rect x="116" y="615" width="3" height="38" fill="#00ff00"/>
<rect x="132" y="615" width="3" height="32" fill="#00ff00"/>
<rect x="148" y="615" width="3" height="27" fill="#00ff00"/>
<rect x="164" y="615" width="3" height="24" fill="#00ff00"/>
<rect x="180" y="615" width="3" height="24" fill="#00ff00"/>
<rect x="196" y="615" width="3" height="23" fill="#00ff00"/>
<rect x="212" y="615" width="3" height="24" fill="#00ff00"/>
<rect x="228" y="615" width="3" height="25" fill="#00ff00"/>
<rect x="244" y="615" width="3" height="27" fill="#00ff00"/>
<rect x="260" y="615" width="3" height="30" fill="#00ff00"/>
<rect x="276" y="615" width="3" height="31" fill="#00ff00"/>
<rect x="292" y="615" width="3" height="33" fill="#00ff00"/>
<rect x="308" y="615" width="3" height="38" fill="#00ff00"/>
<rect x="324" y="615" width="3" height="45" fill="#00ff00"/>
<rect x="340" y="615" width="3" height="53" fill="#00ff00"/>
<rect x="356" y="615" width="3" height="56" fill="#00ff00"/>
<rect x="372" y="615" width="3" height="52" fill="#00ff00"/>
<rect x="388" y="615" width="3" height="50" fill="#00ff00"/>
<rect x="404" y="615" width="3" height="47" fill="#00ff00"/>
<rect x="420" y="615" width="3" height="44" fill="#00ff00"/>
<rect x="436" y="615" width="3" height="45" fill="#00ff00"/>
<rect x="452" y="615" width="3" height="48" fill="#00ff00"/>
<rect x="468" y="615" width="3" height="53" fill="#00ff00"/>
<rect x="484" y="615" width="3" height="61" fill="#00ff00"/>
<rect x="500" y="615" width="3" height="71" fill="#00ff00"/>
<rect x="516" y="615" width="3" height="75" fill="#00ff00"/>
<rect x="532" y="615" width="3" height="82" fill="#00ff00"/>
<rect x="548" y="615" width="3" height="86" fill="#00ff00"/>
<rect x="564" y="615" width="3" height="90" fill="#00ff00"/>
<rect x="580" y="615" width="3" height="96" fill="#00ff00"/>
<rect x="596" y="615" width="3" height="100" fill="#00ff00"/>
<rect x="612" y="615" width="3" height="101" fill="#00ff00"/>
<rect x="628" y="615" width="3" height="99" fill="#00ff00"/>
<rect x="644" y="615" width="3" height="95" fill="#00ff00"/>
<rect x="660" y="615" width="3" height="91" fill="#00ff00"/>
<rect x="676" y="615" width="3" height="93" fill="#00ff00"/>
<rect x="692" y="615" width="3" height="94" fill="#00ff00"/>
<rect x="708" y="615" width="3" height="95" fill="#00ff00"/>
<rect x="724" y="615" width="3" height="100" fill="#00ff00"/>
<rect x="740" y="615" width="3" height="103" fill="#00ff00"/>
<rect x="756" y="615" width="3" height="103" fill="#00ff00"/>
<rect x="772" y="615" width="3" height="86" fill="#00ff00"/>
<rect x="788" y="615" width="3" height="71" fill="#00ff00"/>
<rect x="804" y="615" width="3" height="61" fill="#00ff00"/>
<rect x="820" y="615" width="3" height="54" fill="#00ff00"/>
<rect x="836" y="615" width="3" height="54" fill="#00ff00"/>
<rect x="852" y="615" width="3" height="48" fill="#00ff00"/>
<rect x="868" y="615" width="3" height="42" fill="#00ff00"/>
<rect x="884" y="615" width="3" height="36" fill="#00ff00"/>
<rect x="900" y="615" width="3" height="29" fill="#00ff00"/>
<rect x="916" y="615" width="3" height="27" fill="#00ff00"/>
<rect x="932" y="615" width="3" height="22" fill="#00ff00"/>
<rect x="948" y="615" width="3" height="24" fill="#00ff00"/>
<rect x="964" y="615" width="3" height="29" fill="#00ff00"/>
<rect x="980" y="615" width="3" height="36" fill="#00ff00"/>
<rect x="996" y="615" width="3" height="40" fill="#00ff00"/>
<rect x="1012" y="615" width="3" height="41" fill="#00ff00"/>
<rect x="1028" y="615" width="3" height="39" fill="#00ff00"/>
<rect x="1044" y="615" width="3" height="36" fill="#00ff00"/>
<rect x="1060" y="615" width="3" height="26" fill="#00ff00"/>
<rect x="1076" y="615" width="3" height="17" fill="#00ff00"/>
<rect x="1092" y="615" width="3" height="11" fill="#00ff00"/>
<rect x="1108" y="615" width="3" height="8" fill="#00ff00"/>
<rect x="1124" y="615" width="3" height="1" fill="#00ff00"/>
<rect x="1140" y="615" width="3" height="4" fill="#00ff00"/>
<rect x="1156" y="615" width="3" height="2" fill="#00ff00"/>
<rect x="1172" y="613" width="3" height="2" fill="#00ff00"/>
<rect x="1188" y="610" width="3" height="5" fill="#00ff00"/>
<rect x="1204" y="609" width="3" height="6" fill="#00ff00"/>
<rect x="1220" y="610" width="3" height="5" fill="#00ff00"/>
<rect x="1236" y="615" width="3" height="4" fill="#00ff00"/>
<rect x="1252" y="615" width="3" height="6" fill="#00ff00"/>
<rect x="1268" y="615" width="3" height="3" fill="#00ff00"/>
<rect x="1284" y="615" width="3" height="2" fill="#00ff00"/>
<polyline points="5,661.7 21,663.3 37,663.6 53,663.6 69,663.6 85,663.3 101,662.6 117,661.7 133,658.6 149,654.9 165,652.1 181,650.1 197,648.4 213,645.2 229,643.3 245,641.6 261,640.6 277,640 293,640.8 309,642.1 325,645.3 341,647.7 357,652.4 373,655.5 389,657.1 405,659.3 421,660.9 437,662.1 453,663.1 469,664.3 485,665.2 501,666.2 517,668.9 533,672.4 549,677.4 565,682.1 581,687.3 597,692.9 613,699.4 629,702.8 645,705.9 661,707.2 677,709.4 693,709.9 709,710.3 725,710.9 741,710.9 757,710.9 773,710.3 789,707.4 805,704.3 821,700.5 837,695.6 853,689.6 869,682.8 885,676.5 901,668.5 917,661.6 933,656.7 949,651.7 965,649.2 981,647.6 997,646.7 1013,646 1029,646.5 1045,646.9 1061,646.9 1077,646.6 1093,645.4 1109,642.3 1125,638.5 1141,634.6 1157,631.1 1173,627.6 1189,622.4 1205,618.6 1221,615.3 1237,615 1253,615 1269,615 1285,615" fill="none" stroke="#ff0000" stroke-width="2" stroke-linejoin="round" shape-rendering="crispEdges"/>
</g>
<text transform="translate(9.1,615) scale(0.932,1)" fill="#000" stroke="#000" stroke-width="0.15" font-size="10.0">MACD(12,26,9) -0.000078 0.000042</text>
<rect x="1642" y="604" width="2" height="1" fill="#000"/>
<text transform="translate(1645,613) scale(0.95,1)" fill="#000" stroke="#000" stroke-width="0.15" font-size="10.0">0.000651</text>
<rect x="1642" y="615" width="2" height="1" fill="#000"/>
<text transform="translate(1645,618.6) scale(0.95,1)" fill="#000" stroke="#000" stroke-width="0.15" font-size="10.0">0.00</text>
<rect x="1642" y="722" width="2" height="1" fill="#000"/>
<text transform="translate(1645,720) scale(0.89,1)" fill="#000" stroke="#000" stroke-width="0.15" font-size="10.0">-0.006036</text>
<line x1="6" y1="748.5" x2="1641" y2="748.5" stroke="#000" stroke-width="1" stroke-dasharray="3 3"/>
<line x1="6" y1="780.5" x2="1641" y2="780.5" stroke="#000" stroke-width="1" stroke-dasharray="3 3"/>
<line x1="6" y1="817.5" x2="1641" y2="817.5" stroke="#000" stroke-width="1" stroke-dasharray="3 3"/>
<g clip-path="url(#crsi)">
<polyline points="5,789.6 21,787.9 37,784.7 53,788.9 69,792.1 85,792.9 101,788.7 117,781.7 133,779.7 149,780.0 165,783.7 181,785.9 197,787.2 213,787.9 229,788.2 245,792.9 261,792.9 277,792.9 293,794.9 309,799.8 325,804.1 341,807.6 357,801.6 373,787.9 389,790.6 405,788.4 421,787.9 437,793.6 453,795.9 469,799.6 485,805.3 501,807.8 517,802.8 533,805.8 549,805.8 565,807.3 581,809.5 597,809.5 613,806.1 629,803.6 645,799.6 661,799.1 677,806.6 693,807.1 709,805.8 725,809.5 741,809.8 757,806.6 773,779.2 789,779.0 805,781.0 821,783.6 837,789.7 853,783.0 869,782.7 885,781.4 901,778.6 917,783.0 933,780.5 949,786.0 965,791.3 981,793.7 997,792.8 1013,790.4 1029,786.0 1045,783.6 1061,775.3 1077,773.7 1093,775.0 1109,777.7 1125,772.5 1141,784.5 1157,779.3 1173,777.4 1189,776.2 1205,778.3 1221,781.1 1237,788.5 1253,783.0 1269,777.7 1285,779.6" fill="none" stroke="#1e90ff" stroke-width="2" stroke-linejoin="round" shape-rendering="crispEdges"/>
</g>
<text transform="translate(8.5,738) scale(0.95,1)" fill="#000" stroke="#000" stroke-width="0.15" font-size="10.0">RSI(14) 49.8256</text>
<rect x="1642" y="727" width="2" height="1" fill="#000"/>
<rect x="1642" y="833" width="2" height="1" fill="#000"/>
<text transform="translate(1644.4,735.6) scale(0.95,1)" fill="#000" stroke="#000" stroke-width="0.15" font-size="10.0">100</text>
<text transform="translate(1644.4,752) scale(0.95,1)" fill="#000" stroke="#000" stroke-width="0.15" font-size="10.0">80</text>
<text transform="translate(1644.4,784) scale(0.95,1)" fill="#000" stroke="#000" stroke-width="0.15" font-size="10.0">50</text>
<text transform="translate(1644.4,821) scale(0.95,1)" fill="#000" stroke="#000" stroke-width="0.15" font-size="10.0">15</text>
<text transform="translate(1644.4,831) scale(0.95,1)" fill="#000" stroke="#000" stroke-width="0.15" font-size="10.0">0</text>
<rect x="5" y="835" width="1" height="3" fill="#000"/>
<text transform="translate(3.8,847) scale(0.925,1)" fill="#000" stroke="#000" stroke-width="0.15" font-size="10.0">16 Sep 2022</text>
<rect x="69" y="835" width="1" height="3" fill="#000"/>
<text transform="translate(67.8,847) scale(0.925,1)" fill="#000" stroke="#000" stroke-width="0.15" font-size="10.0">19 Sep 04:00</text>
<rect x="133" y="835" width="1" height="3" fill="#000"/>
<text transform="translate(131.8,847) scale(0.925,1)" fill="#000" stroke="#000" stroke-width="0.15" font-size="10.0">19 Sep 20:00</text>
<rect x="197" y="835" width="1" height="3" fill="#000"/>
<text transform="translate(195.8,847) scale(0.925,1)" fill="#000" stroke="#000" stroke-width="0.15" font-size="10.0">20 Sep 12:00</text>
<rect x="261" y="835" width="1" height="3" fill="#000"/>
<text transform="translate(259.8,847) scale(0.925,1)" fill="#000" stroke="#000" stroke-width="0.15" font-size="10.0">21 Sep 04:00</text>
<rect x="325" y="835" width="1" height="3" fill="#000"/>
<text transform="translate(323.8,847) scale(0.925,1)" fill="#000" stroke="#000" stroke-width="0.15" font-size="10.0">21 Sep 20:00</text>
<rect x="389" y="835" width="1" height="3" fill="#000"/>
<text transform="translate(387.8,847) scale(0.925,1)" fill="#000" stroke="#000" stroke-width="0.15" font-size="10.0">22 Sep 12:00</text>
<rect x="453" y="835" width="1" height="3" fill="#000"/>
<text transform="translate(451.8,847) scale(0.925,1)" fill="#000" stroke="#000" stroke-width="0.15" font-size="10.0">23 Sep 04:00</text>
<rect x="517" y="835" width="1" height="3" fill="#000"/>
<text transform="translate(515.8,847) scale(0.925,1)" fill="#000" stroke="#000" stroke-width="0.15" font-size="10.0">25 Sep 23:00</text>
<rect x="581" y="835" width="1" height="3" fill="#000"/>
<text transform="translate(579.8,847) scale(0.925,1)" fill="#000" stroke="#000" stroke-width="0.15" font-size="10.0">26 Sep 12:00</text>
<rect x="645" y="835" width="1" height="3" fill="#000"/>
<text transform="translate(643.8,847) scale(0.925,1)" fill="#000" stroke="#000" stroke-width="0.15" font-size="10.0">27 Sep 04:00</text>
<rect x="709" y="835" width="1" height="3" fill="#000"/>
<text transform="translate(707.8,847) scale(0.925,1)" fill="#000" stroke="#000" stroke-width="0.15" font-size="10.0">27 Sep 20:00</text>
<rect x="773" y="835" width="1" height="3" fill="#000"/>
<text transform="translate(771.8,847) scale(0.925,1)" fill="#000" stroke="#000" stroke-width="0.15" font-size="10.0">28 Sep 12:00</text>
<rect x="837" y="835" width="1" height="3" fill="#000"/>
<text transform="translate(835.8,847) scale(0.925,1)" fill="#000" stroke="#000" stroke-width="0.15" font-size="10.0">29 Sep 04:00</text>
<rect x="901" y="835" width="1" height="3" fill="#000"/>
<text transform="translate(899.8,847) scale(0.925,1)" fill="#000" stroke="#000" stroke-width="0.15" font-size="10.0">29 Sep 20:00</text>
<rect x="965" y="835" width="1" height="3" fill="#000"/>
<text transform="translate(963.8,847) scale(0.925,1)" fill="#000" stroke="#000" stroke-width="0.15" font-size="10.0">30 Sep 12:00</text>
<rect x="1029" y="835" width="1" height="3" fill="#000"/>
<text transform="translate(1027.8,847) scale(0.925,1)" fill="#000" stroke="#000" stroke-width="0.15" font-size="10.0">3 Oct 04:00</text>
<rect x="1093" y="835" width="1" height="3" fill="#000"/>
<text transform="translate(1091.8,847) scale(0.925,1)" fill="#000" stroke="#000" stroke-width="0.15" font-size="10.0">3 Oct 20:00</text>
<rect x="1157" y="835" width="1" height="3" fill="#000"/>
<text transform="translate(1155.8,847) scale(0.925,1)" fill="#000" stroke="#000" stroke-width="0.15" font-size="10.0">4 Oct 12:00</text>
<rect x="1221" y="835" width="1" height="3" fill="#000"/>
<text transform="translate(1219.8,847) scale(0.925,1)" fill="#000" stroke="#000" stroke-width="0.15" font-size="10.0">5 Oct 04:00</text>
<rect x="1285" y="835" width="1" height="3" fill="#000"/>
<text transform="translate(1283.8,847) scale(0.925,1)" fill="#000" stroke="#000" stroke-width="0.15" font-size="10.0">5 Oct 20:00</text>
</svg>
</body></html>
